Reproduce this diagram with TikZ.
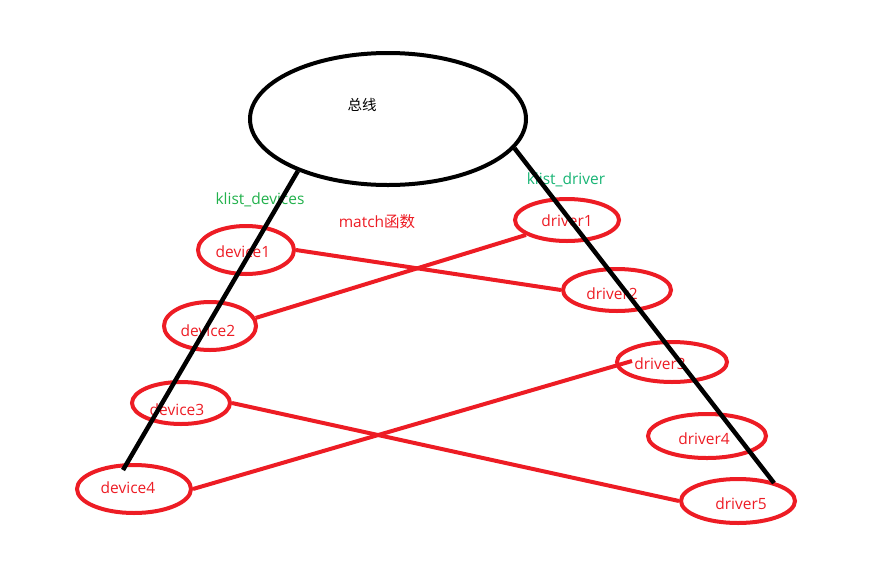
\documentclass[tikz,border=0pt]{standalone}
\usepackage{fontspec}
\setmainfont{Open Sans}
\newfontfamily\cjk{Noto Sans CJK SC}
\usetikzlibrary{shapes.geometric}
\definecolor{pred}{HTML}{ED1C24}
\definecolor{pgreen}{HTML}{22B14C}
\definecolor{pteal}{HTML}{17B474}
\begin{document}
\begin{tikzpicture}[x=1pt,y=-1pt,
  redell/.style={draw=pred,line width=4pt,ellipse,inner sep=0pt},
  bus/.style={draw=black,line width=4pt,ellipse,inner sep=0pt},
  redline/.style={draw=pred,line width=4pt},
  blackline/.style={draw=black,line width=4.5pt},
  lbl/.style={inner sep=0pt,font=\fontsize{15.5}{18}\selectfont}]
\useasboundingbox (0,0) rectangle (892,582);
\node[bus,minimum width=276pt,minimum height=132pt] (busn) at (388,119) {};
\node[lbl,font=\cjk\fontsize{14.5}{17}\selectfont] (bustext) at (362,105) {总线};
\node[lbl,text=pgreen] (kdev) at (260,200) {klist\_devices};
\node[lbl,text=pteal] (kdrv) at (566,180) {klist\_driver};
\node[lbl,text=pred] (match) at (377,222) {match{\cjk 函数}};
% devices
\node[redell,minimum width=96pt,minimum height=48pt] (dev1) at (246,250) {};
\node[redell,minimum width=92pt,minimum height=48pt] (dev2) at (210,326) {};
\node[redell,minimum width=98pt,minimum height=42pt] (dev3) at (181,403) {};
\node[redell,minimum width=114pt,minimum height=48pt] (dev4) at (134,489) {};
% drivers
\node[redell,minimum width=104pt,minimum height=42pt] (drv1) at (567,220) {};
\node[redell,minimum width=108pt,minimum height=42pt] (drv2) at (617,290) {};
\node[redell,minimum width=110pt,minimum height=40pt] (drv3) at (672,362) {};
\node[redell,minimum width=118pt,minimum height=44pt] (drv4) at (707,436) {};
\node[redell,minimum width=114pt,minimum height=44pt] (drv5) at (738,501) {};
% texts
\node[lbl,text=pred] (t1) at (243,252) {device1};
\node[lbl,text=pred] (t2) at (208,331) {device2};
\node[lbl,text=pred] (t3) at (177,410) {device3};
\node[lbl,text=pred] (t4) at (128,488) {device4};
\node[lbl,text=pred] (u1) at (567,221) {driver1};
\node[lbl,text=pred] (u2) at (612,294) {driver2};
\node[lbl,text=pred] (u3) at (660,364) {driver3};
\node[lbl,text=pred] (u4) at (704,439) {driver4};
\node[lbl,text=pred] (u5) at (741,504) {driver5};
% red connectors
\coordinate (c3) at (632,361);
\draw[redline] (dev1.east) -- (drv2.west);
\draw[redline] (dev2.10) -- (drv1.200);
\draw[redline] (dev3.east) -- (drv5.west);
\draw[redline] (dev4.east) -- (c3);
% black bus lines
\coordinate (lend) at (123,470);
\coordinate (rend) at (774,483);
\draw[blackline] (busn.210) -- (lend);
\draw[blackline] (busn.347) -- (rend);
\end{tikzpicture}
\end{document}
